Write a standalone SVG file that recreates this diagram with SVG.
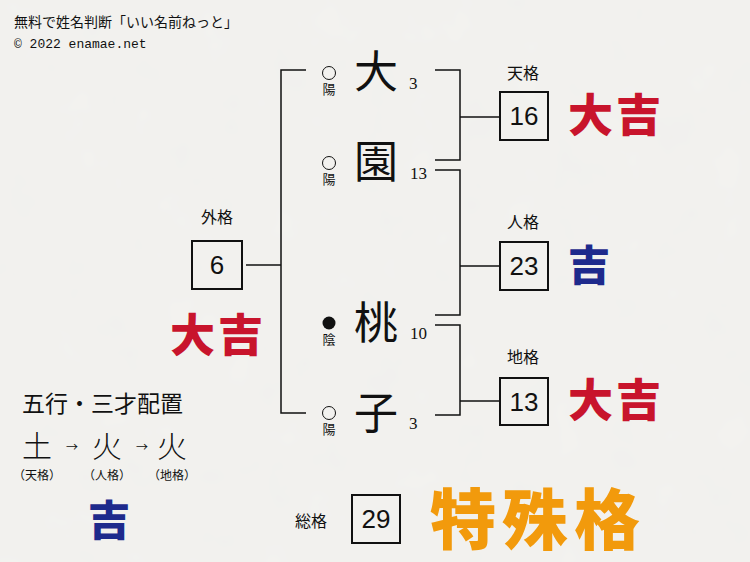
<svg xmlns="http://www.w3.org/2000/svg" width="750" height="562" viewBox="0 0 750 562">
<defs>
<filter id="paper" x="0" y="0" width="100%" height="100%">
<feTurbulence type="fractalNoise" baseFrequency="0.02" numOctaves="3" seed="4"/>
<feColorMatrix type="matrix" values="0 0 0 0 0.80  0 0 0 0 0.80  0 0 0 0 0.79  0 0 0 0.18 0"/>
</filter>
<style>
.jp{font-family:"Noto Sans CJK JP","Noto Sans",sans-serif;fill:#111}
.big{font-family:"Noto Sans CJK JP",serif;font-size:44px;font-weight:400;fill:#111;text-anchor:middle}
.num{font-family:"Liberation Serif",serif;font-size:17px;fill:#111}
.lbl{font-family:"Noto Sans CJK JP",sans-serif;font-size:16px;fill:#111;text-anchor:middle}
.box{fill:none;stroke:#111;stroke-width:2}
.bn{font-family:"Liberation Sans",Arial,sans-serif;font-size:26px;fill:#111;text-anchor:middle}
.ln{fill:none;stroke:#111;stroke-width:1.5}
.yy{font-family:"Noto Sans CJK JP",sans-serif;font-size:13px;fill:#111;text-anchor:middle}
.red{font-family:"Noto Sans CJK JP",sans-serif;font-weight:900;font-size:45px;letter-spacing:3px;fill:#c8142c}
.blue{font-family:"Noto Sans CJK JP",sans-serif;font-weight:900;font-size:42px;fill:#1e2a8c}
.org{font-family:"Noto Sans CJK JP",sans-serif;font-weight:900;font-size:66px;letter-spacing:6px;fill:#f29a0c}
.el{font-family:"Noto Sans CJK JP",sans-serif;font-size:30px;font-weight:300;fill:#111;text-anchor:middle}
.sm{font-family:"Noto Sans CJK JP",sans-serif;font-size:12px;fill:#111;text-anchor:middle}
</style>
</defs>
<rect width="750" height="562" fill="#f3f2ef"/>
<rect width="750" height="562" filter="url(#paper)"/>

<g id="header">
<text class="jp" x="14" y="27" font-size="14">無料で姓名判断「いい名前ねっと」</text>
<text x="14" y="48" font-family="Liberation Mono,monospace" font-size="13" fill="#111">© 2022 enamae.net</text>
</g>

<g id="connectors">
<polyline class="ln" points="306,70 281,70 281,413 306,413"/>
<line class="ln" x1="246" y1="265" x2="281" y2="265"/>
<polyline class="ln" points="435,70 460,70 460,160 435,160"/>
<line class="ln" x1="460" y1="117" x2="500" y2="117"/>
<polyline class="ln" points="435,170 460,170 460,315 435,315"/>
<line class="ln" x1="460" y1="266" x2="500" y2="266"/>
<polyline class="ln" points="435,325 460,325 460,415 435,415"/>
<line class="ln" x1="460" y1="401" x2="500" y2="401"/>
</g>

<g id="char1">
<circle cx="329" cy="73" r="6.5" fill="none" stroke="#111" stroke-width="1"/>
<text class="yy" x="329" y="94">陽</text>
<text class="big" x="376" y="88">大</text>
<text class="num" x="409" y="89">3</text>
</g>
<g id="char2">
<circle cx="329" cy="163" r="6.5" fill="none" stroke="#111" stroke-width="1"/>
<text class="yy" x="329" y="184">陽</text>
<text class="big" x="376" y="178">園</text>
<text class="num" x="410" y="179">13</text>
</g>
<g id="char3">
<circle cx="329" cy="323" r="6.5" fill="#111"/>
<text class="yy" x="329" y="344">陰</text>
<text class="big" x="376" y="339">桃</text>
<text class="num" x="410" y="339">10</text>
</g>
<g id="char4">
<circle cx="329" cy="413" r="6.5" fill="none" stroke="#111" stroke-width="1"/>
<text class="yy" x="329" y="434">陽</text>
<text class="big" x="376" y="429">子</text>
<text class="num" x="409" y="429">3</text>
</g>

<g id="gaikaku">
<text class="lbl" x="217" y="223">外格</text>
<rect class="box" x="192" y="241" width="50" height="48"/>
<text class="bn" x="217" y="274">6</text>
<text class="red" x="170" y="352">大吉</text>
</g>

<g id="tenkaku">
<text class="lbl" x="523" y="79">天格</text>
<rect class="box" x="500" y="92" width="48" height="48"/>
<text class="bn" x="524" y="125">16</text>
<text class="red" x="568" y="132">大吉</text>
</g>

<g id="jinkaku">
<text class="lbl" x="523" y="228">人格</text>
<rect class="box" x="500" y="242" width="48" height="48"/>
<text class="bn" x="524" y="275">23</text>
<text class="blue" x="568" y="281">吉</text>
</g>

<g id="chikaku">
<text class="lbl" x="523" y="363">地格</text>
<rect class="box" x="500" y="378" width="48" height="47"/>
<text class="bn" x="524" y="411">13</text>
<text class="red" x="568" y="417">大吉</text>
</g>

<g id="soukaku">
<text class="lbl" x="311" y="527">総格</text>
<rect class="box" x="352" y="495" width="48" height="48"/>
<text class="bn" x="376" y="528">29</text>
<text class="org" x="430" y="544">特殊格</text>
</g>

<g id="gogyou">
<text class="jp" x="22" y="412" font-size="23">五行・三才配置</text>
<text class="el" x="37" y="457">土</text>
<text class="sm" x="72" y="452" font-size="11">→</text>
<text class="el" x="107" y="457">火</text>
<text class="sm" x="142" y="452" font-size="11">→</text>
<text class="el" x="172" y="457">火</text>
<text class="sm" x="37" y="480">（天格）</text>
<text class="sm" x="107" y="480">（人格）</text>
<text class="sm" x="172" y="480">（地格）</text>
<text class="blue" x="88" y="536">吉</text>
</g>
</svg>
